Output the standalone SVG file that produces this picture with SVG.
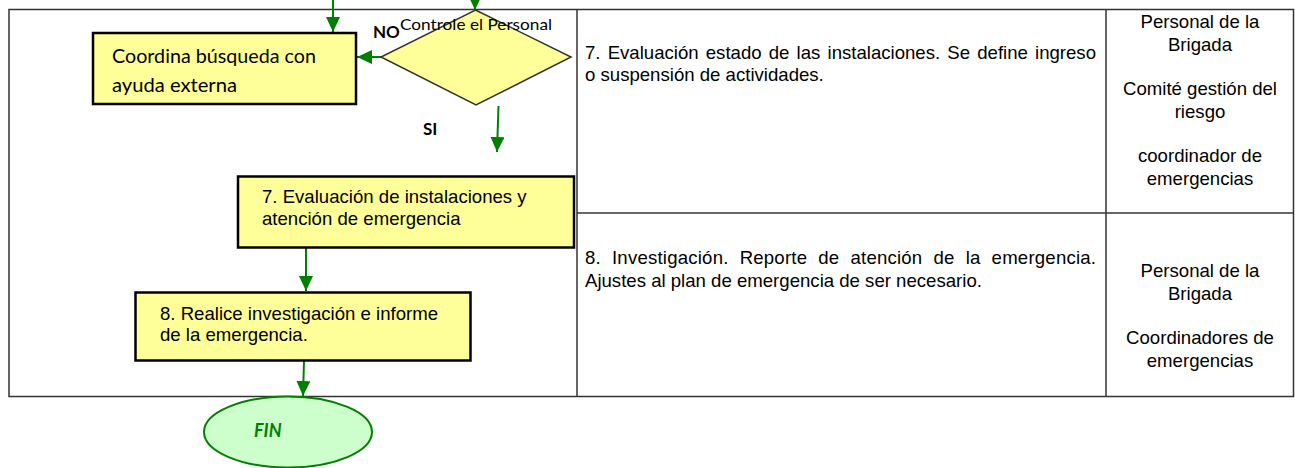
<svg xmlns="http://www.w3.org/2000/svg" width="1295" height="468" viewBox="0 0 1295 468">
<style>
.grid{fill:none;stroke:#333;stroke-width:1.5}
.box{fill:#FFFF99;stroke:#000;stroke-width:2.5}
.dia{fill:#FFFF99;stroke:#333;stroke-width:1.5}
.arr{fill:none;stroke:#008000;stroke-width:2;marker-end:url(#ah)}
.ar{font-family:"Liberation Sans",Arial,sans-serif;font-size:18.6px;fill:#000}
.cal{font-family:Lato,"Open Sans",sans-serif;fill:#000}
.mid{text-anchor:middle}
</style>
<defs>
<marker id="ah" markerUnits="userSpaceOnUse" markerWidth="16" markerHeight="16" refX="15" refY="7" orient="auto">
<path d="M0,0 L15,7 L0,14 z" fill="#008000"/>
</marker>
</defs>
<rect width="1295" height="468" fill="#fff"/>
<g id="table">
<rect class="grid" x="9" y="9.5" width="1284.5" height="387"/>
<line class="grid" x1="577" y1="9.5" x2="577" y2="396.5"/>
<line class="grid" x1="1106" y1="9.5" x2="1106" y2="396.5"/>
<line class="grid" x1="577" y1="213" x2="1293.5" y2="213" stroke="#555"/>
</g>
<g id="connectors">
<line class="arr" x1="333" y1="0" x2="333" y2="32"/>
<line class="arr" x1="475" y1="-6" x2="475" y2="10"/>
<line class="arr" x1="381" y1="57" x2="357" y2="57"/>
<line class="arr" x1="498.5" y1="106" x2="497" y2="152"/>
<line class="arr" x1="306" y1="248" x2="306" y2="291"/>
<line class="arr" x1="304" y1="361" x2="303" y2="396"/>
</g>
<g id="node-coordina">
<rect class="box" x="93" y="33" width="263" height="71" stroke-width="2"/>
<text class="cal" x="112" y="63" font-size="19" textLength="204" lengthAdjust="spacingAndGlyphs">Coordina búsqueda con</text>
<text class="cal" x="112" y="92" font-size="19" textLength="125" lengthAdjust="spacingAndGlyphs">ayuda externa</text>
</g>
<g id="node-decision">
<polygon class="dia" points="475.5,10 571,57 476,105 381,57"/>
<text class="cal" x="400" y="30" font-size="16" textLength="152" lengthAdjust="spacingAndGlyphs">Controle el Personal</text>
<text class="cal" x="373" y="38" font-size="17" font-weight="bold">NO</text>
<text class="cal" x="423" y="135" font-size="17" font-weight="bold">SI</text>
</g>
<g id="node-7">
<rect class="box" x="238" y="176.5" width="336" height="71"/>
<text class="ar" x="262" y="203">7. Evaluación de instalaciones y</text>
<text class="ar" x="262" y="225">atención de emergencia</text>
</g>
<g id="node-8">
<rect class="box" x="135.5" y="292.5" width="335" height="68" stroke-width="2"/>
<text class="ar" x="160" y="320">8. Realice investigación e informe</text>
<text class="ar" x="160" y="341">de la emergencia.</text>
</g>
<g id="node-fin">
<ellipse cx="288" cy="432" rx="84" ry="35.5" fill="#CCFFCC" stroke="#008000" stroke-width="2"/>
<text class="cal" x="254" y="437" font-size="18" font-weight="bold" font-style="italic" style="fill:#008000">FIN</text>
</g>
<g id="desc-7">
<text class="ar" x="585" y="59" word-spacing="2" textLength="511" lengthAdjust="spacing">7. Evaluación estado de las instalaciones. Se define ingreso</text>
<text class="ar" x="585" y="81">o suspensión de actividades.</text>
</g>
<g id="desc-8">
<text class="ar" x="585" y="264" word-spacing="5.7" textLength="511" lengthAdjust="spacing">8. Investigación. Reporte de atención de la emergencia.</text>
<text class="ar" x="585" y="287">Ajustes al plan de emergencia de ser necesario.</text>
</g>
<g id="resp-7">
<text class="ar mid" x="1200" y="28">Personal de la</text>
<text class="ar mid" x="1200" y="51">Brigada</text>
<text class="ar mid" x="1200" y="95">Comité gestión del</text>
<text class="ar mid" x="1200" y="118">riesgo</text>
<text class="ar mid" x="1200" y="162">coordinador de</text>
<text class="ar mid" x="1200" y="185">emergencias</text>
</g>
<g id="resp-8">
<text class="ar mid" x="1200" y="277">Personal de la</text>
<text class="ar mid" x="1200" y="300">Brigada</text>
<text class="ar mid" x="1200" y="344">Coordinadores de</text>
<text class="ar mid" x="1200" y="367">emergencias</text>
</g>
</svg>
